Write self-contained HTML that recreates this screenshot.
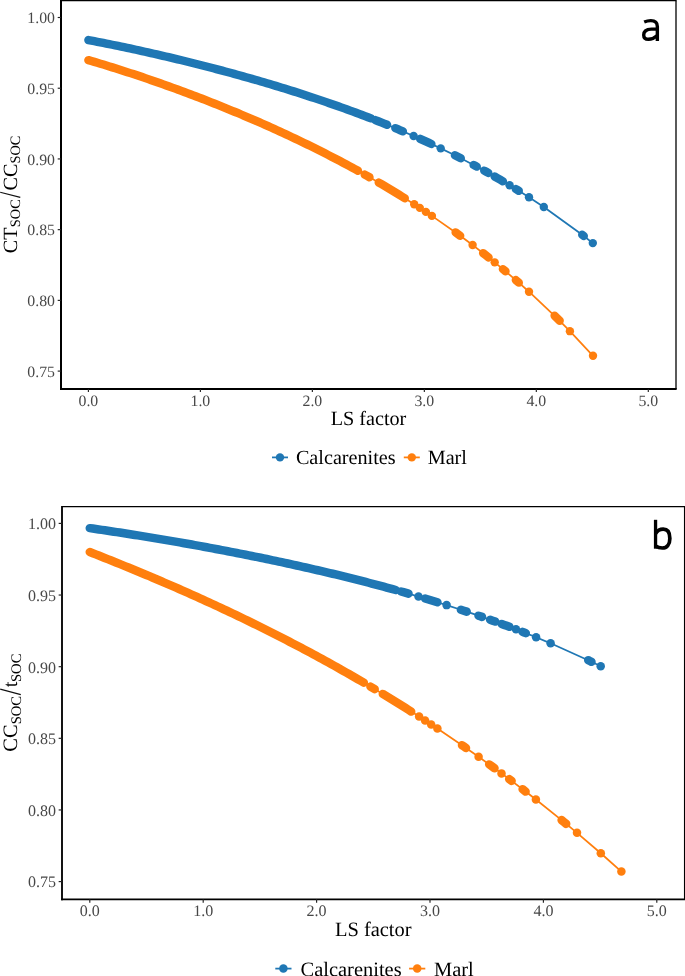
<!DOCTYPE html>
<html><head><meta charset="utf-8"><style>
html,body{margin:0;padding:0;background:#fff;}
svg{display:block;will-change:transform;}
text{font-family:"Liberation Serif",serif;text-rendering:geometricPrecision;}
.lab{font-family:"Liberation Sans",sans-serif;}
</style></head><body>
<svg width="685" height="976" viewBox="0 0 685 976">
<rect width="685" height="976" fill="#fff"/>
<line x1="61" y1="0.65" x2="676.65" y2="0.65" stroke="#000" stroke-width="1.3"/>
<line x1="676" y1="0.65" x2="676" y2="389.0" stroke="#000" stroke-width="1.3"/>
<path d="M88.40,40.07 L91.37,40.64 L94.35,41.21 L97.32,41.78 L100.30,42.37 L103.27,42.95 L106.25,43.55 L109.22,44.15 L112.20,44.75 L115.17,45.36 L118.15,45.97 L121.12,46.59 L124.10,47.21 L127.07,47.84 L130.05,48.48 L133.02,49.12 L136.00,49.76 L138.97,50.41 L141.95,51.07 L144.92,51.73 L147.89,52.39 L150.87,53.06 L153.84,53.74 L156.82,54.42 L159.79,55.10 L162.77,55.79 L165.74,56.49 L168.72,57.19 L171.69,57.89 L174.67,58.60 L177.64,59.32 L180.62,60.04 L183.59,60.76 L186.57,61.49 L189.54,62.23 L192.52,62.97 L195.49,63.71 L198.47,64.46 L201.44,65.22 L204.41,65.98 L207.39,66.75 L210.36,67.52 L213.34,68.29 L216.31,69.07 L219.29,69.86 L222.26,70.65 L225.24,71.45 L228.21,72.25 L231.19,73.06 L234.16,73.87 L237.14,74.69 L240.11,75.52 L243.09,76.35 L246.06,77.18 L249.04,78.03 L252.01,78.87 L254.99,79.73 L257.96,80.59 L260.93,81.45 L263.91,82.32 L266.88,83.20 L269.86,84.08 L272.83,84.97 L275.81,85.87 L278.78,86.77 L281.76,87.68 L284.73,88.60 L287.71,89.52 L290.68,90.45 L293.66,91.38 L296.63,92.33 L299.61,93.27 L302.58,94.23 L305.56,95.19 L308.53,96.17 L311.51,97.14 L314.48,98.13 L317.45,99.12 L320.43,100.12 L323.40,101.13 L326.38,102.15 L329.35,103.17 L332.33,104.20 L335.30,105.24 L338.28,106.29 L341.25,107.35 L344.23,108.41 L347.20,109.48 L350.18,110.57 L353.15,111.66 L356.13,112.76 L359.10,113.87 L362.08,114.98 L365.05,116.11 L368.03,117.25 L371.00,118.39 L375.30,120.07 L378.25,121.23 L381.20,122.40 L384.15,123.58 L387.10,124.77 L395.30,128.14 L397.83,129.19 L400.37,130.26 L402.90,131.33 L413.60,135.95 L420.10,138.83 L422.93,140.10 L425.75,141.38 L428.57,142.67 L431.40,143.98 L440.70,148.35 L454.90,155.29 L457.85,156.77 L460.80,158.26 L473.60,164.92 L475.20,165.78 L476.80,166.63 L484.20,170.65 L486.25,171.79 L488.30,172.93 L494.60,176.48 L497.37,178.06 L500.13,179.66 L502.90,181.28 L509.60,185.25 L515.80,189.01 L517.30,189.93 L518.80,190.85 L529.00,197.28 L543.80,207.01 L582.20,234.77 L583.80,236.01 L592.80,243.11" fill="none" stroke="#1F77B4" stroke-width="1.75" stroke-linejoin="round"/>
<path d="M88.40,40.07 L91.37,40.64 L94.35,41.21 L97.32,41.78 L100.30,42.37 L103.27,42.95 L106.25,43.55 L109.22,44.15 L112.20,44.75 L115.17,45.36 L118.15,45.97 L121.12,46.59 L124.10,47.21 L127.07,47.84 L130.05,48.48 L133.02,49.12 L136.00,49.76 L138.97,50.41 L141.95,51.07 L144.92,51.73 L147.89,52.39 L150.87,53.06 L153.84,53.74 L156.82,54.42 L159.79,55.10 L162.77,55.79 L165.74,56.49 L168.72,57.19 L171.69,57.89 L174.67,58.60 L177.64,59.32 L180.62,60.04 L183.59,60.76 L186.57,61.49 L189.54,62.23 L192.52,62.97 L195.49,63.71 L198.47,64.46 L201.44,65.22 L204.41,65.98 L207.39,66.75 L210.36,67.52 L213.34,68.29 L216.31,69.07 L219.29,69.86 L222.26,70.65 L225.24,71.45 L228.21,72.25 L231.19,73.06 L234.16,73.87 L237.14,74.69 L240.11,75.52 L243.09,76.35 L246.06,77.18 L249.04,78.03 L252.01,78.87 L254.99,79.73 L257.96,80.59 L260.93,81.45 L263.91,82.32 L266.88,83.20 L269.86,84.08 L272.83,84.97 L275.81,85.87 L278.78,86.77 L281.76,87.68 L284.73,88.60 L287.71,89.52 L290.68,90.45 L293.66,91.38 L296.63,92.33 L299.61,93.27 L302.58,94.23 L305.56,95.19 L308.53,96.17 L311.51,97.14 L314.48,98.13 L317.45,99.12 L320.43,100.12 L323.40,101.13 L326.38,102.15 L329.35,103.17 L332.33,104.20 L335.30,105.24 L338.28,106.29 L341.25,107.35 L344.23,108.41 L347.20,109.48 L350.18,110.57 L353.15,111.66 L356.13,112.76 L359.10,113.87 L362.08,114.98 L365.05,116.11 L368.03,117.25 L371.00,118.39" fill="none" stroke="#1F77B4" stroke-width="8.40" stroke-linecap="round" stroke-linejoin="round"/>
<path d="M375.30,120.07 L378.25,121.23 L381.20,122.40 L384.15,123.58 L387.10,124.77" fill="none" stroke="#1F77B4" stroke-width="8.40" stroke-linecap="round" stroke-linejoin="round"/>
<path d="M395.30,128.14 L397.83,129.19 L400.37,130.26 L402.90,131.33" fill="none" stroke="#1F77B4" stroke-width="8.40" stroke-linecap="round" stroke-linejoin="round"/>
<path d="M420.10,138.83 L422.93,140.10 L425.75,141.38 L428.57,142.67 L431.40,143.98" fill="none" stroke="#1F77B4" stroke-width="8.40" stroke-linecap="round" stroke-linejoin="round"/>
<path d="M454.90,155.29 L457.85,156.77 L460.80,158.26" fill="none" stroke="#1F77B4" stroke-width="8.40" stroke-linecap="round" stroke-linejoin="round"/>
<path d="M473.60,164.92 L475.20,165.78 L476.80,166.63" fill="none" stroke="#1F77B4" stroke-width="8.40" stroke-linecap="round" stroke-linejoin="round"/>
<path d="M484.20,170.65 L486.25,171.79 L488.30,172.93" fill="none" stroke="#1F77B4" stroke-width="8.40" stroke-linecap="round" stroke-linejoin="round"/>
<path d="M494.60,176.48 L497.37,178.06 L500.13,179.66 L502.90,181.28" fill="none" stroke="#1F77B4" stroke-width="8.40" stroke-linecap="round" stroke-linejoin="round"/>
<path d="M515.80,189.01 L517.30,189.93 L518.80,190.85" fill="none" stroke="#1F77B4" stroke-width="8.40" stroke-linecap="round" stroke-linejoin="round"/>
<path d="M582.20,234.77 L583.80,236.01" fill="none" stroke="#1F77B4" stroke-width="8.40" stroke-linecap="round" stroke-linejoin="round"/>
<circle cx="413.60" cy="135.95" r="4.20" fill="#1F77B4"/>
<circle cx="440.70" cy="148.35" r="4.20" fill="#1F77B4"/>
<circle cx="509.60" cy="185.25" r="4.20" fill="#1F77B4"/>
<circle cx="529.00" cy="197.28" r="4.20" fill="#1F77B4"/>
<circle cx="543.80" cy="207.01" r="4.20" fill="#1F77B4"/>
<circle cx="592.80" cy="243.11" r="4.20" fill="#1F77B4"/>
<path d="M88.40,60.12 L91.40,61.00 L94.39,61.89 L97.39,62.78 L100.38,63.68 L103.38,64.59 L106.37,65.51 L109.37,66.43 L112.36,67.37 L115.36,68.31 L118.36,69.25 L121.35,70.21 L124.35,71.17 L127.34,72.14 L130.34,73.12 L133.33,74.10 L136.33,75.10 L139.32,76.10 L142.32,77.10 L145.32,78.12 L148.31,79.14 L151.31,80.17 L154.30,81.20 L157.30,82.25 L160.29,83.30 L163.29,84.36 L166.28,85.42 L169.28,86.50 L172.28,87.58 L175.27,88.66 L178.27,89.76 L181.26,90.86 L184.26,91.97 L187.25,93.09 L190.25,94.21 L193.24,95.35 L196.24,96.48 L199.24,97.63 L202.23,98.79 L205.23,99.95 L208.22,101.12 L211.22,102.30 L214.21,103.48 L217.21,104.67 L220.20,105.87 L223.20,107.08 L226.20,108.30 L229.19,109.52 L232.19,110.76 L235.18,112.00 L238.18,113.24 L241.17,114.50 L244.17,115.77 L247.16,117.04 L250.16,118.32 L253.16,119.61 L256.15,120.91 L259.15,122.21 L262.14,123.53 L265.14,124.85 L268.13,126.19 L271.13,127.53 L274.12,128.88 L277.12,130.24 L280.12,131.61 L283.11,132.99 L286.11,134.38 L289.10,135.77 L292.10,137.18 L295.09,138.60 L298.09,140.03 L301.08,141.46 L304.08,142.91 L307.08,144.37 L310.07,145.83 L313.07,147.31 L316.06,148.80 L319.06,150.30 L322.05,151.80 L325.05,153.32 L328.04,154.86 L331.04,156.40 L334.04,157.95 L337.03,159.52 L340.03,161.09 L343.02,162.68 L346.02,164.28 L349.01,165.89 L352.01,167.52 L355.00,169.15 L358.00,170.80 L364.70,174.53 L367.10,175.89 L369.50,177.25 L378.70,182.55 L381.60,184.24 L384.50,185.95 L387.40,187.67 L390.30,189.41 L393.20,191.16 L396.10,192.92 L399.00,194.70 L401.90,196.49 L404.80,198.30 L414.20,204.25 L419.80,207.87 L425.90,211.88 L431.90,215.89 L455.60,232.42 L457.90,234.09 L460.20,235.77 L472.60,245.01 L483.10,253.11 L485.85,255.27 L488.60,257.46 L494.70,262.36 L502.90,269.10 L505.50,271.27 L515.80,280.06 L517.30,281.36 L518.80,282.67 L529.00,291.73 L554.60,315.80 L557.15,318.31 L559.70,320.84 L569.90,331.16 L593.00,355.82" fill="none" stroke="#FF7F0E" stroke-width="1.75" stroke-linejoin="round"/>
<path d="M88.40,60.12 L91.40,61.00 L94.39,61.89 L97.39,62.78 L100.38,63.68 L103.38,64.59 L106.37,65.51 L109.37,66.43 L112.36,67.37 L115.36,68.31 L118.36,69.25 L121.35,70.21 L124.35,71.17 L127.34,72.14 L130.34,73.12 L133.33,74.10 L136.33,75.10 L139.32,76.10 L142.32,77.10 L145.32,78.12 L148.31,79.14 L151.31,80.17 L154.30,81.20 L157.30,82.25 L160.29,83.30 L163.29,84.36 L166.28,85.42 L169.28,86.50 L172.28,87.58 L175.27,88.66 L178.27,89.76 L181.26,90.86 L184.26,91.97 L187.25,93.09 L190.25,94.21 L193.24,95.35 L196.24,96.48 L199.24,97.63 L202.23,98.79 L205.23,99.95 L208.22,101.12 L211.22,102.30 L214.21,103.48 L217.21,104.67 L220.20,105.87 L223.20,107.08 L226.20,108.30 L229.19,109.52 L232.19,110.76 L235.18,112.00 L238.18,113.24 L241.17,114.50 L244.17,115.77 L247.16,117.04 L250.16,118.32 L253.16,119.61 L256.15,120.91 L259.15,122.21 L262.14,123.53 L265.14,124.85 L268.13,126.19 L271.13,127.53 L274.12,128.88 L277.12,130.24 L280.12,131.61 L283.11,132.99 L286.11,134.38 L289.10,135.77 L292.10,137.18 L295.09,138.60 L298.09,140.03 L301.08,141.46 L304.08,142.91 L307.08,144.37 L310.07,145.83 L313.07,147.31 L316.06,148.80 L319.06,150.30 L322.05,151.80 L325.05,153.32 L328.04,154.86 L331.04,156.40 L334.04,157.95 L337.03,159.52 L340.03,161.09 L343.02,162.68 L346.02,164.28 L349.01,165.89 L352.01,167.52 L355.00,169.15 L358.00,170.80" fill="none" stroke="#FF7F0E" stroke-width="8.40" stroke-linecap="round" stroke-linejoin="round"/>
<path d="M364.70,174.53 L367.10,175.89 L369.50,177.25" fill="none" stroke="#FF7F0E" stroke-width="8.40" stroke-linecap="round" stroke-linejoin="round"/>
<path d="M378.70,182.55 L381.60,184.24 L384.50,185.95 L387.40,187.67 L390.30,189.41 L393.20,191.16 L396.10,192.92 L399.00,194.70 L401.90,196.49 L404.80,198.30" fill="none" stroke="#FF7F0E" stroke-width="8.40" stroke-linecap="round" stroke-linejoin="round"/>
<path d="M455.60,232.42 L457.90,234.09 L460.20,235.77" fill="none" stroke="#FF7F0E" stroke-width="8.40" stroke-linecap="round" stroke-linejoin="round"/>
<path d="M483.10,253.11 L485.85,255.27 L488.60,257.46" fill="none" stroke="#FF7F0E" stroke-width="8.40" stroke-linecap="round" stroke-linejoin="round"/>
<path d="M502.90,269.10 L505.50,271.27" fill="none" stroke="#FF7F0E" stroke-width="8.40" stroke-linecap="round" stroke-linejoin="round"/>
<path d="M515.80,280.06 L517.30,281.36 L518.80,282.67" fill="none" stroke="#FF7F0E" stroke-width="8.40" stroke-linecap="round" stroke-linejoin="round"/>
<path d="M554.60,315.80 L557.15,318.31 L559.70,320.84" fill="none" stroke="#FF7F0E" stroke-width="8.40" stroke-linecap="round" stroke-linejoin="round"/>
<circle cx="414.20" cy="204.25" r="4.20" fill="#FF7F0E"/>
<circle cx="419.80" cy="207.87" r="4.20" fill="#FF7F0E"/>
<circle cx="425.90" cy="211.88" r="4.20" fill="#FF7F0E"/>
<circle cx="431.90" cy="215.89" r="4.20" fill="#FF7F0E"/>
<circle cx="472.60" cy="245.01" r="4.20" fill="#FF7F0E"/>
<circle cx="494.70" cy="262.36" r="4.20" fill="#FF7F0E"/>
<circle cx="529.00" cy="291.73" r="4.20" fill="#FF7F0E"/>
<circle cx="569.90" cy="331.16" r="4.20" fill="#FF7F0E"/>
<circle cx="593.00" cy="355.82" r="4.20" fill="#FF7F0E"/>
<line x1="61" y1="0.00" x2="61" y2="389.95" stroke="#000" stroke-width="2.0"/>
<line x1="60.00" y1="389.0" x2="676.65" y2="389.0" stroke="#000" stroke-width="1.9"/>
<line x1="57.70" y1="17.50" x2="61" y2="17.50" stroke="#222" stroke-width="1.15"/>
<text x="55.00" y="23.30" font-size="15.8" fill="#474747" text-anchor="end">1.00</text>
<line x1="57.70" y1="88.22" x2="61" y2="88.22" stroke="#222" stroke-width="1.15"/>
<text x="55.00" y="94.02" font-size="15.8" fill="#474747" text-anchor="end">0.95</text>
<line x1="57.70" y1="158.94" x2="61" y2="158.94" stroke="#222" stroke-width="1.15"/>
<text x="55.00" y="164.74" font-size="15.8" fill="#474747" text-anchor="end">0.90</text>
<line x1="57.70" y1="229.66" x2="61" y2="229.66" stroke="#222" stroke-width="1.15"/>
<text x="55.00" y="235.46" font-size="15.8" fill="#474747" text-anchor="end">0.85</text>
<line x1="57.70" y1="300.38" x2="61" y2="300.38" stroke="#222" stroke-width="1.15"/>
<text x="55.00" y="306.18" font-size="15.8" fill="#474747" text-anchor="end">0.80</text>
<line x1="57.70" y1="371.10" x2="61" y2="371.10" stroke="#222" stroke-width="1.15"/>
<text x="55.00" y="376.90" font-size="15.8" fill="#474747" text-anchor="end">0.75</text>
<line x1="88.40" y1="389.0" x2="88.40" y2="392.10" stroke="#222" stroke-width="1.15"/>
<text x="88.40" y="405.80" font-size="15.8" fill="#474747" text-anchor="middle">0.0</text>
<line x1="200.38" y1="389.0" x2="200.38" y2="392.10" stroke="#222" stroke-width="1.15"/>
<text x="200.38" y="405.80" font-size="15.8" fill="#474747" text-anchor="middle">1.0</text>
<line x1="312.36" y1="389.0" x2="312.36" y2="392.10" stroke="#222" stroke-width="1.15"/>
<text x="312.36" y="405.80" font-size="15.8" fill="#474747" text-anchor="middle">2.0</text>
<line x1="424.34" y1="389.0" x2="424.34" y2="392.10" stroke="#222" stroke-width="1.15"/>
<text x="424.34" y="405.80" font-size="15.8" fill="#474747" text-anchor="middle">3.0</text>
<line x1="536.32" y1="389.0" x2="536.32" y2="392.10" stroke="#222" stroke-width="1.15"/>
<text x="536.32" y="405.80" font-size="15.8" fill="#474747" text-anchor="middle">4.0</text>
<line x1="648.30" y1="389.0" x2="648.30" y2="392.10" stroke="#222" stroke-width="1.15"/>
<text x="648.30" y="405.80" font-size="15.8" fill="#474747" text-anchor="middle">5.0</text>
<text x="368.50" y="425.1" font-size="20.2" fill="#000" text-anchor="middle">LS factor</text>
<text transform="translate(16.8,253.3) rotate(-90)" font-size="20.2" fill="#000">CT</text>
<text transform="translate(20.1,227.2) rotate(-90)" font-size="14.4" fill="#000">SOC</text>
<text transform="translate(16.8,190.4) rotate(-90)" font-size="20.2" fill="#000">CC</text>
<text transform="translate(20.1,163.6) rotate(-90)" font-size="14.4" fill="#000">SOC</text>
<line x1="0.2" y1="192.3" x2="20.3" y2="197.4" stroke="#111" stroke-width="1.1"/>
<line x1="272.00" y1="457.4" x2="288.00" y2="457.4" stroke="#1F77B4" stroke-width="1.75"/>
<circle cx="280" cy="457.4" r="4.20" fill="#1F77B4"/>
<line x1="403.80" y1="457.4" x2="419.80" y2="457.4" stroke="#FF7F0E" stroke-width="1.75"/>
<circle cx="411.8" cy="457.4" r="4.20" fill="#FF7F0E"/>
<text x="295.9" y="464" font-size="20.2" fill="#000">Calcarenites</text>
<text x="427.7" y="464" font-size="20.2" fill="#000">Marl</text>
<g fill="none" stroke="#000" stroke-width="3.4"><path d="M644.2 22.0 C646.5 21.0 648.5 20.6 650.8 20.6 C655.3 20.6 657.35 22.6 657.35 26.5 L657.35 40.9"/><path d="M657.35 29.1 L651.5 29.1 C645.5 29.3 643.7 31.7 643.7 34.9 C643.7 37.9 645.8 39.3 648.5 39.3 C651.8 39.3 654.5 38.0 657.35 35.5"/></g>
<line x1="62" y1="506.6" x2="685.05" y2="506.6" stroke="#000" stroke-width="1.2"/>
<line x1="684.5" y1="506.6" x2="684.5" y2="899.35" stroke="#000" stroke-width="1.1"/>
<path d="M89.80,528.15 L92.80,528.58 L95.80,529.01 L98.80,529.44 L101.80,529.88 L104.80,530.32 L107.79,530.77 L110.79,531.22 L113.79,531.67 L116.79,532.13 L119.79,532.58 L122.79,533.05 L125.79,533.51 L128.79,533.98 L131.79,534.45 L134.79,534.93 L137.78,535.40 L140.78,535.88 L143.78,536.37 L146.78,536.86 L149.78,537.35 L152.78,537.84 L155.78,538.34 L158.78,538.84 L161.78,539.34 L164.78,539.85 L167.77,540.36 L170.77,540.87 L173.77,541.38 L176.77,541.90 L179.77,542.43 L182.77,542.95 L185.77,543.48 L188.77,544.01 L191.77,544.55 L194.77,545.09 L197.76,545.63 L200.76,546.17 L203.76,546.72 L206.76,547.27 L209.76,547.83 L212.76,548.39 L215.76,548.95 L218.76,549.51 L221.76,550.08 L224.76,550.65 L227.75,551.23 L230.75,551.81 L233.75,552.39 L236.75,552.98 L239.75,553.56 L242.75,554.16 L245.75,554.75 L248.75,555.35 L251.75,555.96 L254.75,556.56 L257.75,557.18 L260.74,557.79 L263.74,558.41 L266.74,559.03 L269.74,559.66 L272.74,560.29 L275.74,560.92 L278.74,561.56 L281.74,562.20 L284.74,562.85 L287.74,563.50 L290.73,564.15 L293.73,564.81 L296.73,565.47 L299.73,566.14 L302.73,566.81 L305.73,567.49 L308.73,568.16 L311.73,568.85 L314.73,569.54 L317.73,570.23 L320.72,570.93 L323.72,571.63 L326.72,572.34 L329.72,573.05 L332.72,573.76 L335.72,574.49 L338.72,575.21 L341.72,575.94 L344.72,576.68 L347.72,577.42 L350.71,578.17 L353.71,578.92 L356.71,579.67 L359.71,580.44 L362.71,581.20 L365.71,581.98 L368.71,582.75 L371.71,583.54 L374.71,584.33 L377.71,585.12 L380.70,585.92 L383.70,586.73 L386.70,587.54 L389.70,588.36 L392.70,589.18 L395.70,590.02 L401.00,591.50 L403.50,592.20 L406.00,592.92 L408.50,593.63 L418.50,596.54 L425.10,598.50 L427.56,599.24 L430.02,599.98 L432.48,600.73 L434.94,601.48 L437.40,602.24 L446.60,605.12 L460.90,609.74 L463.80,610.70 L466.70,611.66 L478.50,615.67 L480.25,616.28 L482.00,616.89 L490.10,619.75 L492.65,620.66 L495.20,621.58 L501.70,623.96 L504.27,624.91 L506.83,625.86 L509.40,626.83 L516.00,629.34 L522.50,631.86 L524.15,632.50 L525.80,633.15 L536.10,637.28 L550.60,643.31 L588.20,660.21 L589.85,661.00 L591.50,661.79 L600.70,666.26" fill="none" stroke="#1F77B4" stroke-width="1.77" stroke-linejoin="round"/>
<path d="M89.80,528.15 L92.80,528.58 L95.80,529.01 L98.80,529.44 L101.80,529.88 L104.80,530.32 L107.79,530.77 L110.79,531.22 L113.79,531.67 L116.79,532.13 L119.79,532.58 L122.79,533.05 L125.79,533.51 L128.79,533.98 L131.79,534.45 L134.79,534.93 L137.78,535.40 L140.78,535.88 L143.78,536.37 L146.78,536.86 L149.78,537.35 L152.78,537.84 L155.78,538.34 L158.78,538.84 L161.78,539.34 L164.78,539.85 L167.77,540.36 L170.77,540.87 L173.77,541.38 L176.77,541.90 L179.77,542.43 L182.77,542.95 L185.77,543.48 L188.77,544.01 L191.77,544.55 L194.77,545.09 L197.76,545.63 L200.76,546.17 L203.76,546.72 L206.76,547.27 L209.76,547.83 L212.76,548.39 L215.76,548.95 L218.76,549.51 L221.76,550.08 L224.76,550.65 L227.75,551.23 L230.75,551.81 L233.75,552.39 L236.75,552.98 L239.75,553.56 L242.75,554.16 L245.75,554.75 L248.75,555.35 L251.75,555.96 L254.75,556.56 L257.75,557.18 L260.74,557.79 L263.74,558.41 L266.74,559.03 L269.74,559.66 L272.74,560.29 L275.74,560.92 L278.74,561.56 L281.74,562.20 L284.74,562.85 L287.74,563.50 L290.73,564.15 L293.73,564.81 L296.73,565.47 L299.73,566.14 L302.73,566.81 L305.73,567.49 L308.73,568.16 L311.73,568.85 L314.73,569.54 L317.73,570.23 L320.72,570.93 L323.72,571.63 L326.72,572.34 L329.72,573.05 L332.72,573.76 L335.72,574.49 L338.72,575.21 L341.72,575.94 L344.72,576.68 L347.72,577.42 L350.71,578.17 L353.71,578.92 L356.71,579.67 L359.71,580.44 L362.71,581.20 L365.71,581.98 L368.71,582.75 L371.71,583.54 L374.71,584.33 L377.71,585.12 L380.70,585.92 L383.70,586.73 L386.70,587.54 L389.70,588.36 L392.70,589.18 L395.70,590.02" fill="none" stroke="#1F77B4" stroke-width="8.51" stroke-linecap="round" stroke-linejoin="round"/>
<path d="M401.00,591.50 L403.50,592.20 L406.00,592.92 L408.50,593.63" fill="none" stroke="#1F77B4" stroke-width="8.51" stroke-linecap="round" stroke-linejoin="round"/>
<path d="M425.10,598.50 L427.56,599.24 L430.02,599.98 L432.48,600.73 L434.94,601.48 L437.40,602.24" fill="none" stroke="#1F77B4" stroke-width="8.51" stroke-linecap="round" stroke-linejoin="round"/>
<path d="M460.90,609.74 L463.80,610.70 L466.70,611.66" fill="none" stroke="#1F77B4" stroke-width="8.51" stroke-linecap="round" stroke-linejoin="round"/>
<path d="M478.50,615.67 L480.25,616.28 L482.00,616.89" fill="none" stroke="#1F77B4" stroke-width="8.51" stroke-linecap="round" stroke-linejoin="round"/>
<path d="M490.10,619.75 L492.65,620.66 L495.20,621.58" fill="none" stroke="#1F77B4" stroke-width="8.51" stroke-linecap="round" stroke-linejoin="round"/>
<path d="M501.70,623.96 L504.27,624.91 L506.83,625.86 L509.40,626.83" fill="none" stroke="#1F77B4" stroke-width="8.51" stroke-linecap="round" stroke-linejoin="round"/>
<path d="M522.50,631.86 L524.15,632.50 L525.80,633.15" fill="none" stroke="#1F77B4" stroke-width="8.51" stroke-linecap="round" stroke-linejoin="round"/>
<path d="M588.20,660.21 L589.85,661.00 L591.50,661.79" fill="none" stroke="#1F77B4" stroke-width="8.51" stroke-linecap="round" stroke-linejoin="round"/>
<circle cx="418.50" cy="596.54" r="4.25" fill="#1F77B4"/>
<circle cx="446.60" cy="605.12" r="4.25" fill="#1F77B4"/>
<circle cx="516.00" cy="629.34" r="4.25" fill="#1F77B4"/>
<circle cx="536.10" cy="637.28" r="4.25" fill="#1F77B4"/>
<circle cx="550.60" cy="643.31" r="4.25" fill="#1F77B4"/>
<circle cx="600.70" cy="666.26" r="4.25" fill="#1F77B4"/>
<path d="M89.80,552.08 L92.78,553.24 L95.76,554.41 L98.73,555.58 L101.71,556.76 L104.69,557.94 L107.67,559.12 L110.65,560.31 L113.63,561.51 L116.60,562.70 L119.58,563.91 L122.56,565.12 L125.54,566.33 L128.52,567.55 L131.50,568.77 L134.47,569.99 L137.45,571.23 L140.43,572.46 L143.41,573.71 L146.39,574.95 L149.37,576.20 L152.34,577.46 L155.32,578.72 L158.30,579.99 L161.28,581.26 L164.26,582.54 L167.23,583.83 L170.21,585.11 L173.19,586.41 L176.17,587.71 L179.15,589.01 L182.13,590.32 L185.10,591.64 L188.08,592.96 L191.06,594.29 L194.04,595.62 L197.02,596.96 L200.00,598.31 L202.97,599.66 L205.95,601.02 L208.93,602.38 L211.91,603.75 L214.89,605.12 L217.87,606.50 L220.84,607.89 L223.82,609.29 L226.80,610.69 L229.78,612.09 L232.76,613.50 L235.73,614.92 L238.71,616.35 L241.69,617.78 L244.67,619.22 L247.65,620.66 L250.63,622.11 L253.60,623.57 L256.58,625.04 L259.56,626.51 L262.54,627.99 L265.52,629.47 L268.50,630.97 L271.47,632.46 L274.45,633.97 L277.43,635.48 L280.41,637.01 L283.39,638.53 L286.37,640.07 L289.34,641.61 L292.32,643.16 L295.30,644.72 L298.28,646.28 L301.26,647.85 L304.23,649.43 L307.21,651.02 L310.19,652.61 L313.17,654.21 L316.15,655.82 L319.13,657.44 L322.10,659.07 L325.08,660.70 L328.06,662.34 L331.04,663.99 L334.02,665.65 L337.00,667.31 L339.97,668.99 L342.95,670.67 L345.93,672.36 L348.91,674.06 L351.89,675.76 L354.87,677.48 L357.84,679.20 L360.82,680.93 L363.80,682.67 L370.40,686.56 L372.55,687.83 L374.70,689.11 L382.80,693.98 L385.64,695.70 L388.48,697.43 L391.32,699.16 L394.16,700.91 L397.00,702.66 L399.84,704.42 L402.68,706.19 L405.52,707.97 L408.36,709.76 L411.20,711.56 L419.10,716.60 L425.10,720.47 L431.20,724.45 L437.40,728.53 L462.00,745.17 L464.00,746.56 L466.00,747.94 L478.60,756.80 L489.20,764.39 L491.85,766.31 L494.50,768.24 L501.50,773.38 L509.20,779.10 L511.60,780.90 L522.60,789.24 L524.10,790.39 L525.60,791.54 L535.90,799.53 L561.60,820.10 L563.90,821.98 L566.20,823.87 L577.00,832.85 L600.80,853.23 L621.40,871.55" fill="none" stroke="#FF7F0E" stroke-width="1.77" stroke-linejoin="round"/>
<path d="M89.80,552.08 L92.78,553.24 L95.76,554.41 L98.73,555.58 L101.71,556.76 L104.69,557.94 L107.67,559.12 L110.65,560.31 L113.63,561.51 L116.60,562.70 L119.58,563.91 L122.56,565.12 L125.54,566.33 L128.52,567.55 L131.50,568.77 L134.47,569.99 L137.45,571.23 L140.43,572.46 L143.41,573.71 L146.39,574.95 L149.37,576.20 L152.34,577.46 L155.32,578.72 L158.30,579.99 L161.28,581.26 L164.26,582.54 L167.23,583.83 L170.21,585.11 L173.19,586.41 L176.17,587.71 L179.15,589.01 L182.13,590.32 L185.10,591.64 L188.08,592.96 L191.06,594.29 L194.04,595.62 L197.02,596.96 L200.00,598.31 L202.97,599.66 L205.95,601.02 L208.93,602.38 L211.91,603.75 L214.89,605.12 L217.87,606.50 L220.84,607.89 L223.82,609.29 L226.80,610.69 L229.78,612.09 L232.76,613.50 L235.73,614.92 L238.71,616.35 L241.69,617.78 L244.67,619.22 L247.65,620.66 L250.63,622.11 L253.60,623.57 L256.58,625.04 L259.56,626.51 L262.54,627.99 L265.52,629.47 L268.50,630.97 L271.47,632.46 L274.45,633.97 L277.43,635.48 L280.41,637.01 L283.39,638.53 L286.37,640.07 L289.34,641.61 L292.32,643.16 L295.30,644.72 L298.28,646.28 L301.26,647.85 L304.23,649.43 L307.21,651.02 L310.19,652.61 L313.17,654.21 L316.15,655.82 L319.13,657.44 L322.10,659.07 L325.08,660.70 L328.06,662.34 L331.04,663.99 L334.02,665.65 L337.00,667.31 L339.97,668.99 L342.95,670.67 L345.93,672.36 L348.91,674.06 L351.89,675.76 L354.87,677.48 L357.84,679.20 L360.82,680.93 L363.80,682.67" fill="none" stroke="#FF7F0E" stroke-width="8.51" stroke-linecap="round" stroke-linejoin="round"/>
<path d="M370.40,686.56 L372.55,687.83 L374.70,689.11" fill="none" stroke="#FF7F0E" stroke-width="8.51" stroke-linecap="round" stroke-linejoin="round"/>
<path d="M382.80,693.98 L385.64,695.70 L388.48,697.43 L391.32,699.16 L394.16,700.91 L397.00,702.66 L399.84,704.42 L402.68,706.19 L405.52,707.97 L408.36,709.76 L411.20,711.56" fill="none" stroke="#FF7F0E" stroke-width="8.51" stroke-linecap="round" stroke-linejoin="round"/>
<path d="M462.00,745.17 L464.00,746.56 L466.00,747.94" fill="none" stroke="#FF7F0E" stroke-width="8.51" stroke-linecap="round" stroke-linejoin="round"/>
<path d="M489.20,764.39 L491.85,766.31 L494.50,768.24" fill="none" stroke="#FF7F0E" stroke-width="8.51" stroke-linecap="round" stroke-linejoin="round"/>
<path d="M509.20,779.10 L511.60,780.90" fill="none" stroke="#FF7F0E" stroke-width="8.51" stroke-linecap="round" stroke-linejoin="round"/>
<path d="M522.60,789.24 L524.10,790.39 L525.60,791.54" fill="none" stroke="#FF7F0E" stroke-width="8.51" stroke-linecap="round" stroke-linejoin="round"/>
<path d="M561.60,820.10 L563.90,821.98 L566.20,823.87" fill="none" stroke="#FF7F0E" stroke-width="8.51" stroke-linecap="round" stroke-linejoin="round"/>
<circle cx="419.10" cy="716.60" r="4.25" fill="#FF7F0E"/>
<circle cx="425.10" cy="720.47" r="4.25" fill="#FF7F0E"/>
<circle cx="431.20" cy="724.45" r="4.25" fill="#FF7F0E"/>
<circle cx="437.40" cy="728.53" r="4.25" fill="#FF7F0E"/>
<circle cx="478.60" cy="756.80" r="4.25" fill="#FF7F0E"/>
<circle cx="501.50" cy="773.38" r="4.25" fill="#FF7F0E"/>
<circle cx="535.90" cy="799.53" r="4.25" fill="#FF7F0E"/>
<circle cx="577.00" cy="832.85" r="4.25" fill="#FF7F0E"/>
<circle cx="600.80" cy="853.23" r="4.25" fill="#FF7F0E"/>
<circle cx="621.40" cy="871.55" r="4.25" fill="#FF7F0E"/>
<line x1="62" y1="506.00" x2="62" y2="900.15" stroke="#000" stroke-width="1.85"/>
<line x1="61.08" y1="899.35" x2="685.05" y2="899.35" stroke="#000" stroke-width="1.6"/>
<line x1="58.66" y1="523.40" x2="62" y2="523.40" stroke="#222" stroke-width="1.16"/>
<text x="55.92" y="529.27" font-size="16.0" fill="#474747" text-anchor="end">1.00</text>
<line x1="58.66" y1="595.04" x2="62" y2="595.04" stroke="#222" stroke-width="1.16"/>
<text x="55.92" y="600.91" font-size="16.0" fill="#474747" text-anchor="end">0.95</text>
<line x1="58.66" y1="666.68" x2="62" y2="666.68" stroke="#222" stroke-width="1.16"/>
<text x="55.92" y="672.55" font-size="16.0" fill="#474747" text-anchor="end">0.90</text>
<line x1="58.66" y1="738.32" x2="62" y2="738.32" stroke="#222" stroke-width="1.16"/>
<text x="55.92" y="744.19" font-size="16.0" fill="#474747" text-anchor="end">0.85</text>
<line x1="58.66" y1="809.96" x2="62" y2="809.96" stroke="#222" stroke-width="1.16"/>
<text x="55.92" y="815.83" font-size="16.0" fill="#474747" text-anchor="end">0.80</text>
<line x1="58.66" y1="881.60" x2="62" y2="881.60" stroke="#222" stroke-width="1.16"/>
<text x="55.92" y="887.47" font-size="16.0" fill="#474747" text-anchor="end">0.75</text>
<line x1="89.80" y1="899.35" x2="89.80" y2="902.85" stroke="#222" stroke-width="1.16"/>
<text x="89.80" y="915.70" font-size="16.0" fill="#474747" text-anchor="middle">0.0</text>
<line x1="203.20" y1="899.35" x2="203.20" y2="902.85" stroke="#222" stroke-width="1.16"/>
<text x="203.20" y="915.70" font-size="16.0" fill="#474747" text-anchor="middle">1.0</text>
<line x1="316.60" y1="899.35" x2="316.60" y2="902.85" stroke="#222" stroke-width="1.16"/>
<text x="316.60" y="915.70" font-size="16.0" fill="#474747" text-anchor="middle">2.0</text>
<line x1="430.00" y1="899.35" x2="430.00" y2="902.85" stroke="#222" stroke-width="1.16"/>
<text x="430.00" y="915.70" font-size="16.0" fill="#474747" text-anchor="middle">3.0</text>
<line x1="543.40" y1="899.35" x2="543.40" y2="902.85" stroke="#222" stroke-width="1.16"/>
<text x="543.40" y="915.70" font-size="16.0" fill="#474747" text-anchor="middle">4.0</text>
<line x1="656.80" y1="899.35" x2="656.80" y2="902.85" stroke="#222" stroke-width="1.16"/>
<text x="656.80" y="915.70" font-size="16.0" fill="#474747" text-anchor="middle">5.0</text>
<text x="373.25" y="936.3" font-size="20.45" fill="#000" text-anchor="middle">LS factor</text>
<text transform="translate(17.4,751.7) rotate(-90)" font-size="20.45" fill="#000">CC</text>
<text transform="translate(20.6,724.3) rotate(-90)" font-size="14.6" fill="#000">SOC</text>
<text transform="translate(17.2,687.2) rotate(-90)" font-size="20.45" fill="#000">t</text>
<text transform="translate(20.6,682.0) rotate(-90)" font-size="14.6" fill="#000">SOC</text>
<line x1="0.2" y1="689.1" x2="20.8" y2="694.6" stroke="#111" stroke-width="1.1"/>
<line x1="275.30" y1="968.6" x2="291.50" y2="968.6" stroke="#1F77B4" stroke-width="1.77"/>
<circle cx="283.4" cy="968.6" r="4.25" fill="#1F77B4"/>
<line x1="409.10" y1="968.6" x2="425.30" y2="968.6" stroke="#FF7F0E" stroke-width="1.77"/>
<circle cx="417.2" cy="968.6" r="4.25" fill="#FF7F0E"/>
<text x="300.6" y="975.5" font-size="20.45" fill="#000">Calcarenites</text>
<text x="434" y="975.5" font-size="20.45" fill="#000">Marl</text>
<g fill="none" stroke="#000"><path stroke-width="3.3" d="M655.55 519.8 L655.55 548.7"/><path stroke-width="3.7" d="M655.6 533.5 C657.5 530.5 660.5 529.2 663.2 529.2 C667.8 529.2 669.85 532.8 669.85 538.4 C669.85 544.5 666.8 548.0 662.3 548.0 C659.6 548.0 657.5 547.3 655.6 546.0"/></g>
</svg>
</body></html>
